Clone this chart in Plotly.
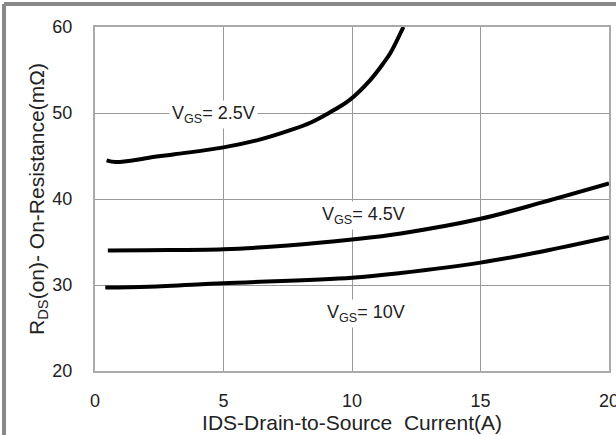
import plotly.graph_objects as go

# Data
ids_25 = [0.45, 0.8, 1.5, 2.1, 3.1, 5.0, 6.4, 7.6, 8.4, 9.1, 9.9, 10.7, 11.2, 11.5, 12.0]
rds_25 = [44.5, 44.3, 44.5, 44.8, 45.2, 46.0, 46.9, 48.0, 48.9, 50.0, 51.5, 53.8, 55.7, 57.0, 60.0]

ids_45 = [0.5, 2.0, 5.0, 7.5, 10.0, 11.9, 15.0, 17.4, 20.0]
rds_45 = [34.0, 34.05, 34.15, 34.6, 35.3, 36.0, 37.7, 39.6, 41.8]

ids_10 = [0.4, 2.1, 5.0, 10.0, 11.9, 15.0, 17.4, 20.0]
rds_10 = [29.7, 29.8, 30.2, 30.85, 31.4, 32.6, 33.9, 35.55]

x_ticks = [0, 5, 10, 15, 20]
y_ticks = [20, 30, 40, 50, 60]

labels = ["V<sub>GS</sub>= 2.5V", "V<sub>GS</sub>= 4.5V", "V<sub>GS</sub>= 10V"]
label_x = [4.63, 10.43, 10.54]
label_y = [49.8, 38.1, 26.7]

FONT = "Liberation Sans, Arial, sans-serif"

fig = go.Figure()
for xs, ys in [(ids_25, rds_25), (ids_45, rds_45), (ids_10, rds_10)]:
    fig.add_trace(go.Scatter(x=xs, y=ys, mode="lines",
                             line=dict(color="black", width=4, shape="spline", smoothing=1.0),
                             showlegend=False, hoverinfo="skip"))

for t, lx, ly in zip(labels, label_x, label_y):
    fig.add_annotation(x=lx, y=ly, text=t, showarrow=False, bgcolor="white",
                       font=dict(family=FONT, size=18, color="#222"), borderpad=2)

axis_common = dict(showgrid=True, gridcolor="#999", gridwidth=1,
                   showline=True, linecolor="#aaa", linewidth=2, mirror=True,
                   zeroline=False, ticks="", automargin=False,
                   ticklabeloverflow="allow",
                   tickfont=dict(family=FONT, size=18, color="#222"))

fig.update_xaxes(range=[0, 20], tickvals=x_ticks, ticktext=[str(v) for v in x_ticks],
                 title=dict(text="IDS-Drain-to-Source\u00a0 Current(A)", font=dict(family=FONT, size=21, color="#222"),
                            standoff=2),
                 ticklabelstandoff=12, **axis_common)
fig.update_yaxes(range=[20, 60], tickvals=y_ticks, ticktext=[str(v) for v in y_ticks],
                 title=dict(text="R<sub>DS</sub>(on)- On-Resistance(mΩ)", font=dict(family=FONT, size=21, color="#222"),
                            standoff=2),
                 ticklabelstandoff=17, **axis_common)

# outer frame (top and left gray edges)
fig.add_shape(type="line", xref="paper", yref="paper", x0=-0.177, x1=1.02, y0=1.067, y1=1.067,
              line=dict(color="#888", width=4))
fig.add_shape(type="line", xref="paper", yref="paper", x0=-0.177, x1=-0.177, y0=-0.2, y1=1.067,
              line=dict(color="#888", width=4))

fig.update_layout(width=616, height=435, margin=dict(l=95, r=7, t=27, b=64),
                  plot_bgcolor="white", paper_bgcolor="white",
                  font=dict(family=FONT))

fig.write_html("out.html")
